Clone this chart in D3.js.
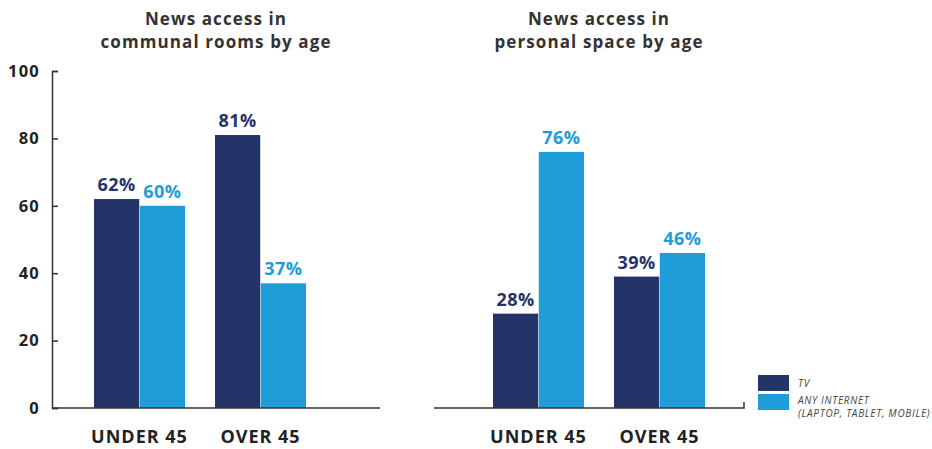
<!DOCTYPE html>
<html>
  <head>
    <meta charset="utf-8">
    <title>News access by age</title>
    <script src="https://d3js.org/d3.v7.min.js"></script>
    <style>
      body { margin: 0; background: #fff; }
      text { font-family: "Open Sans", "DejaVu Sans", sans-serif; }
    </style>
  </head>
  <body>
    <script>
        // Data
        var categories = ["UNDER 45", "OVER 45"]
        var series = ["TV", "ANY INTERNET"]
        var communalTV = [62, 81]
        var communalInternet = [60, 37]
        var personalTV = [28, 39]
        var personalInternet = [76, 46]
        var yTicks = [0, 20, 40, 60, 80, 100]

        var navy = "#243469"
        var blue = "#1e9dd9"
        var colors = [navy, blue]

        var width = 932, height = 449

        var svg = d3.select("body").append("svg")
            .attr("width", width)
            .attr("height", height)

        var y = d3.scaleLinear()
            .domain([0, 100])
            .range([408, 71])

        // y axis on the left chart only
        var yAxis = svg.append("g")
            .attr("transform", "translate(52,0)")
            .call(d3.axisLeft(y).tickValues(yTicks).tickSizeInner(-6).tickSizeOuter(-6).tickPadding(12))
        yAxis.select(".domain").attr("stroke", "#333").attr("stroke-width", 1.5)
        yAxis.selectAll(".tick line").attr("stroke", "#333").attr("stroke-width", 1.5)
        yAxis.selectAll(".tick text")
            .style("font-size", "16.5px")
            .style("font-weight", "700")
            .style("letter-spacing", "1.2px")
            .attr("fill", "#222")

        function drawPanel(left, right, tvVals, netVals, titleLines, titleX, endTick) {
            var data = categories.map(function(c, i) {
                return {cat: c, values: [tvVals[i], netVals[i]]}
            })

            var x0 = d3.scaleBand()
                .domain(categories)
                .range([left, right])
                .paddingInner(30 / 121)
            var x1 = d3.scaleBand()
                .domain(series)
                .range([0, x0.bandwidth()])
                .paddingInner(0.012)

            var g = svg.append("g")

            var groups = g.selectAll(".grp")
                .data(data)
                .enter()
                .append("g")
                .attr("transform", function(d) { return "translate(" + x0(d.cat) + ",0)" })

            groups.selectAll("rect")
                .data(function(d) { return d.values.map(function(v, i) { return {s: series[i], v: v, i: i} }) })
                .enter()
                .append("rect")
                .attr("x", function(d) { return x1(d.s) })
                .attr("y", function(d) { return y(d.v) })
                .attr("width", x1.bandwidth())
                .attr("height", function(d) { return y(0) - y(d.v) })
                .attr("fill", function(d) { return colors[d.i] })

            groups.selectAll(".val")
                .data(function(d) { return d.values.map(function(v, i) { return {s: series[i], v: v, i: i} }) })
                .enter()
                .append("text")
                .attr("x", function(d) { return x1(d.s) + x1.bandwidth() / 2 })
                .attr("y", function(d) { return y(d.v) - 8 })
                .attr("text-anchor", "middle")
                .style("font-size", "18px")
                .style("font-weight", "700")
                .style("letter-spacing", "0.5px")
                .attr("fill", function(d) { return colors[d.i] })
                .text(function(d) { return d.v + "%" })

            // category labels
            g.selectAll(".cat")
                .data(categories)
                .enter()
                .append("text")
                .attr("x", function(d) { return x0(d) + x0.bandwidth() / 2 })
                .attr("y", 443)
                .attr("text-anchor", "middle")
                .style("font-size", "18px")
                .style("font-weight", "700")
                .style("letter-spacing", "1px")
                .attr("fill", "#222")
                .text(function(d) { return d })

            // baseline
            if (endTick) {
                g.append("path")
                    .attr("d", "M" + endTick[0] + "," + y(0) + "H" + endTick[1] + "V" + (y(0) - 6))
                    .attr("fill", "none")
                    .attr("stroke", "#333")
                    .attr("stroke-width", 1.5)
            }

            // title
            g.selectAll(".title")
                .data(titleLines)
                .enter()
                .append("text")
                .attr("x", titleX)
                .attr("y", function(d, i) { return 25 + i * 23 })
                .attr("text-anchor", "middle")
                .style("font-size", "17px")
                .style("font-weight", "700")
                .style("letter-spacing", "1.1px")
                .attr("fill", "#333")
                .text(function(d) { return d })
        }

        drawPanel(94, 306, communalTV, communalInternet,
            ["News access in", "communal rooms by age"], 216, null)
        svg.append("line")
            .attr("x1", 52).attr("x2", 380)
            .attr("y1", y(0)).attr("y2", y(0))
            .attr("stroke", "#333").attr("stroke-width", 1.5)

        drawPanel(493, 705, personalTV, personalInternet,
            ["News access in", "personal space by age"], 599, [434, 744])

        // legend
        var legendLines = [
            {text: "TV", y: 12},
            {text: "ANY INTERNET", y: 29},
            {text: "(LAPTOP, TABLET, MOBILE)", y: 42}
        ]
        var legend = svg.append("g").attr("transform", "translate(758,375)")
        legend.selectAll("rect")
            .data(series)
            .enter()
            .append("rect")
            .attr("x", 0)
            .attr("y", function(d, i) { return i * 19 })
            .attr("width", 31)
            .attr("height", 16)
            .attr("fill", function(d, i) { return colors[i] })
        legend.selectAll(".lt")
            .data(legendLines)
            .enter()
            .append("text")
            .attr("x", 40)
            .attr("y", function(d) { return d.y })
            .style("font-size", "10px")
            .style("font-style", "italic")
            .style("letter-spacing", "0.7px")
            .attr("fill", "#444")
            .text(function(d) { return d.text })
    </script>
  </body>
</html>
